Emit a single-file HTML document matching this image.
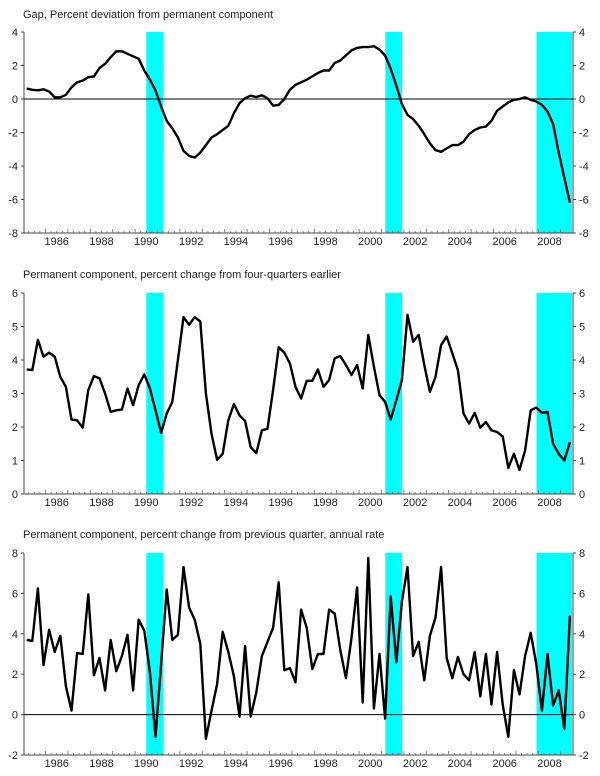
<!DOCTYPE html>
<html><head><meta charset="utf-8"><style>
body{margin:0;background:#fff;}
svg text{font-family:"Liberation Sans",Arial,sans-serif;fill:#222;}
</style></head><body>
<svg id="chart" width="600" height="771" viewBox="0 0 600 771" xmlns="http://www.w3.org/2000/svg"></svg>
<script>
const gapValues=[0.62,0.55,0.52,0.58,0.45,0.1,0.1,0.25,0.7,1.0,1.1,1.3,1.35,1.85,2.1,2.5,2.85,2.85,2.7,2.55,2.4,1.7,1.15,0.5,-0.45,-1.3,-1.75,-2.3,-3.1,-3.4,-3.5,-3.2,-2.75,-2.3,-2.1,-1.85,-1.6,-0.85,-0.25,0.05,0.2,0.12,0.22,0.05,-0.4,-0.35,0.0,0.55,0.85,1.0,
1.15,1.35,1.55,1.7,1.7,2.15,2.3,2.6,2.9,3.05,3.1,3.1,3.15,2.95,2.6,1.8,0.8,-0.3,-0.95,-1.2,-1.6,-2.1,-2.65,-3.05,-3.15,-2.95,-2.75,-2.75,-2.55,-2.1,-1.85,-1.7,-1.65,-1.3,-0.7,-0.45,-0.2,-0.05,0.0,0.1,-0.05,-0.15,-0.35,-0.75,-1.5,-3.2,-4.7,-6.2];
const yoyValues=[3.72,3.7,4.6,4.1,4.22,4.1,3.5,3.2,2.22,2.2,1.98,3.1,3.52,3.45,3.0,2.45,2.5,2.52,3.15,2.65,3.25,3.57,3.15,2.5,1.82,2.4,2.75,4.0,5.28,5.05,5.28,5.15,3.0,1.8,1.02,1.2,2.2,2.68,2.35,2.18,1.4,1.22,1.9,1.95,3.1,4.38,4.22,3.9,3.2,2.85,
3.38,3.38,3.72,3.2,3.4,4.05,4.12,3.85,3.55,3.85,3.15,4.75,3.8,2.95,2.75,2.22,2.8,3.4,5.35,4.55,4.75,3.85,3.05,3.5,4.45,4.7,4.2,3.7,2.4,2.1,2.42,1.98,2.15,1.9,1.85,1.72,0.78,1.2,0.72,1.3,2.5,2.58,2.42,2.45,1.5,1.2,1.0,1.55];
const qoqValues=[3.7,3.65,6.25,2.45,4.2,3.1,3.9,1.4,0.2,3.05,3.0,5.95,1.95,2.8,1.2,3.7,2.15,2.9,3.95,1.2,4.7,4.15,2.1,-1.1,2.5,6.2,3.7,3.95,7.3,5.3,4.7,3.5,-1.2,0.2,1.5,4.1,3.1,1.9,-0.1,3.4,-0.1,1.1,2.9,3.6,4.3,6.55,2.2,2.3,1.6,5.2,
4.3,2.25,3.0,3.0,5.2,5.0,3.2,1.8,3.8,6.3,0.6,7.75,0.3,3.0,-0.2,5.85,2.6,5.6,7.3,2.9,3.6,1.7,3.9,4.8,7.3,2.8,1.8,2.85,2.0,1.7,3.1,0.9,3.0,0.5,3.1,0.5,-1.1,2.2,1.0,2.9,4.05,2.5,0.2,3.0,0.45,1.2,-0.7,4.9];
const recessionStarts=[1990.5,2001.17,2007.92];
const recessionEnds=[1991.25,2001.92,2009.5];
const yearLabels=["1986","1988","1990","1992","1994","1996","1998","2000","2002","2004","2006","2008"];
const firstQuarter=1985.16;
const gapTicks=[4,2,0,-2,-4,-6,-8];
const yoyTicks=[6,5,4,3,2,1,0];
const qoqTicks=[8,6,4,2,0,-2];

const NS="http://www.w3.org/2000/svg";
const svg=document.getElementById('chart');
const XL=24, XR=573;
function xScale(t){return 56.7+(t-1986.5)*22.4;}
function mk(tag,attrs,parent){const e=document.createElementNS(NS,tag);for(const k in attrs)e.setAttribute(k,attrs[k]);(parent||svg).appendChild(e);return e;}

function panel(key,title,values,ticks,top,bottom,titleY){
  const g=mk('g',{});
  
  
  const ymax=ticks[0], ymin=ticks[ticks.length-1];
  const y=v=>top+(ymax-v)/(ymax-ymin)*(bottom-top);
  const tt=mk('text',{x:23,y:titleY,'font-size':11},g);tt.textContent=title;
  
  
  recessionStarts.forEach((s,i)=>{
    const x0=xScale(s), x1=Math.min(xScale(recessionEnds[i]),XR);
    const r=mk('rect',{x:x0,y:top,width:x1-x0,height:bottom-top,fill:'#00ffff'},g);
    
    
  });
  mk('line',{x1:XL,y1:top,x2:XL,y2:bottom,stroke:'#444','stroke-width':1},g);
  mk('line',{x1:XR,y1:top,x2:XR,y2:bottom,stroke:'#444','stroke-width':1},g);
  mk('line',{x1:XL,y1:bottom,x2:XR,y2:bottom,stroke:'#444','stroke-width':1},g);
  if(ymin<0&&ymax>0) mk('line',{x1:XL,y1:y(0),x2:XR,y2:y(0),stroke:'#000','stroke-width':1},g);
  ticks.forEach(v=>{
    const yy=y(v);
    mk('line',{x1:XL-3,y1:yy,x2:XL,y2:yy,stroke:'#444'},g);
    mk('line',{x1:XR,y1:yy,x2:XR+3,y2:yy,stroke:'#444'},g);
    const l=mk('text',{x:XL-6,y:yy+4,'font-size':11,'text-anchor':'end'},g);l.textContent=v;
    
    
    const r=mk('text',{x:XR+6,y:yy+4,'font-size':11},g);r.textContent=v;
    
    
  });
  for(let t=1985;t<=2009.01;t+=0.25){
    const x=xScale(t);if(x<XL||x>XR)continue;
    const major=Math.abs(t-Math.round(t))<0.01;
    mk('line',{x1:x,y1:bottom,x2:x,y2:bottom-(major?4:2),stroke:'#666','stroke-width':0.8},g);
  }
  yearLabels.forEach(s=>{
    const l=mk('text',{x:xScale(+s+0.5),y:bottom+12,'font-size':11,'text-anchor':'middle'},g);l.textContent=s;
    
    
  });
  const pts=values.map((v,i)=>xScale(firstQuarter+0.25*i).toFixed(1)+','+y(v).toFixed(1)).join(' ');
  const pl=mk('polyline',{points:pts,fill:'none',stroke:'#000','stroke-width':2.4,'stroke-linejoin':'round'},g);
  
  
}
panel('gap','Gap, Percent deviation from permanent component',gapValues,gapTicks,32,233,18);
panel('yoy','Permanent component, percent change from four-quarters earlier',yoyValues,yoyTicks,293,494,278);
panel('qoq','Permanent component, percent change from previous quarter, annual rate',qoqValues,qoqTicks,553,755,538);
</script>
</body></html>
